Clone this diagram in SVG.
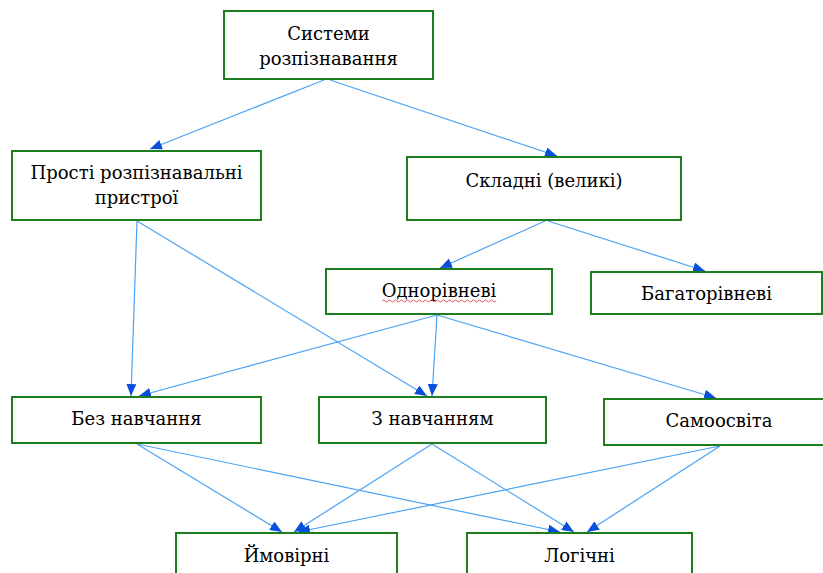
<svg xmlns="http://www.w3.org/2000/svg" width="823" height="573" viewBox="0 0 823 573">
<style>
.box{fill:#fff;stroke:#1e7d1e;stroke-width:2}
.c{stroke:#4aa3f5;stroke-width:1.2;fill:none;marker-end:url(#ah)}
</style>
<defs>
<marker id="ah" markerUnits="userSpaceOnUse" markerWidth="14" markerHeight="12" refX="12" refY="5" orient="auto">
<path d="M0,0 L12,5 L0,10 Z" fill="#0a4fdc"/>
</marker>
</defs>
<rect width="823" height="573" fill="#fff"/>
<g id="connectors">
<line class="c" x1="324" y1="80" x2="150" y2="149"/>
<line class="c" x1="330" y1="80" x2="557" y2="156"/>
<line class="c" x1="545" y1="221" x2="440" y2="268"/>
<line class="c" x1="548" y1="221" x2="705" y2="271"/>
<line class="c" x1="137" y1="221" x2="131" y2="396"/>
<line class="c" x1="137" y1="221" x2="427" y2="396"/>
<line class="c" x1="437" y1="315" x2="139" y2="396"/>
<line class="c" x1="437" y1="315" x2="432" y2="396"/>
<line class="c" x1="437" y1="315" x2="716" y2="398"/>
<line class="c" x1="137" y1="444" x2="282" y2="532"/>
<line class="c" x1="137" y1="444" x2="560" y2="532"/>
<line class="c" x1="432" y1="444" x2="294" y2="532"/>
<line class="c" x1="432" y1="444" x2="574" y2="532"/>
<line class="c" x1="720" y1="446" x2="298" y2="532"/>
<line class="c" x1="720" y1="446" x2="587" y2="532"/>
</g>
<g font-family="DejaVu Serif" font-size="18" fill="#000" text-anchor="middle">
<g id="n-systems">
<rect class="box" x="224" y="11" width="209" height="68"/>
<text x="328.5" y="40">Системи</text>
<text x="328.5" y="65">розпізнавання</text>
</g>
<g id="n-simple">
<rect class="box" x="12" y="151" width="249" height="69"/>
<text x="136.5" y="179">Прості розпізнавальні</text>
<text x="136.5" y="204">пристрої</text>
</g>
<g id="n-complex">
<rect class="box" x="407" y="157" width="274" height="63"/>
<text x="544" y="187">Складні (великі)</text>
</g>
<g id="n-single">
<rect class="box" x="326" y="269" width="226" height="45"/>
<text x="439" y="297">Однорівневі</text>
<path d="M382,301 q1.5,-2 3,0 t3,0 t3,0 t3,0 t3,0 t3,0 t3,0 t3,0 t3,0 t3,0 t3,0 t3,0 t3,0 t3,0 t3,0 t3,0 t3,0 t3,0 t3,0 t3,0 t3,0 t3,0 t3,0 t3,0 t3,0 t3,0 t3,0 t3,0 t3,0 t3,0 t3,0 t3,0 t3,0 t3,0 t3,0 t3,0 t3,0 t3,0" fill="none" stroke="#e03030" stroke-width="0.8"/>
</g>
<g id="n-multi">
<rect class="box" x="591" y="272" width="231" height="42"/>
<text x="706.5" y="300">Багаторівневі</text>
</g>
<g id="n-nolearn">
<rect class="box" x="12" y="397" width="249" height="46"/>
<text x="136.5" y="425">Без навчання</text>
</g>
<g id="n-learn">
<rect class="box" x="319" y="397" width="227" height="46"/>
<text x="432.5" y="425">З навчанням</text>
</g>
<g id="n-self">
<rect class="box" x="604" y="399" width="230" height="46"/>
<text x="719" y="427">Самоосвіта</text>
</g>
<g id="n-prob">
<rect class="box" x="176" y="533" width="221" height="50"/>
<text x="286.5" y="562">Ймовірні</text>
</g>
<g id="n-logic">
<rect class="box" x="467" y="533" width="225" height="50"/>
<text x="579.5" y="562">Логічні</text>
</g>
</g>
</svg>
